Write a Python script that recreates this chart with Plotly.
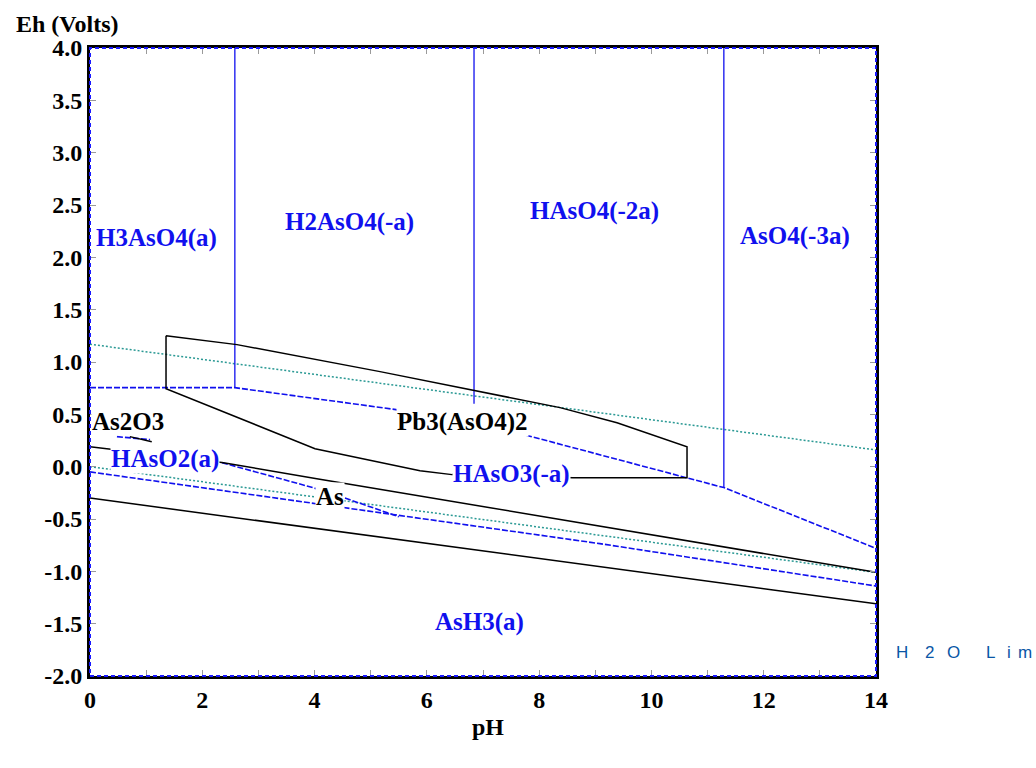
import plotly.graph_objects as go

# ---- Eh-pH diagram data: As-Pb-H2O system ----
# Water stability limits (dotted)
h2o_upper_ph = [0, 14]
h2o_upper_eh = [1.17, 0.16]
h2o_lower_ph = [0, 14]
h2o_lower_eh = [0.0, -1.01]

# Aqueous arsenate speciation boundaries (vertical, blue)
arsenate_bound_ph = [2.58, 6.84, 11.29]
arsenate_bound_eh_low = [0.755, 0.60, -0.20]

# As(V) / As(III) boundary (blue dashed)
as5_as3_ph = [0, 2.58, 5.45, 7.80, 10.62, 11.29, 14]
as5_as3_eh = [0.755, 0.755, 0.545, 0.296, -0.105, -0.20, -0.78]

# As2O3 / HAsO2 boundary pieces
as2o3_blue_ph = [0.48, 1.07]
as2o3_blue_eh = [0.287, 0.258]
as2o3_black_ph = [0.71, 1.10]
as2o3_black_eh = [0.287, 0.239]

# HAsO2(a) / As boundary (blue dashed)
hasO2_as_ph = [2.35, 3.97, 4.52, 5.50]
hasO2_as_eh = [0.038, -0.20, -0.296, -0.478]

# As(III) / As(-III) boundary (blue dashed, lowest)
as3_ash3_ph = [0, 9.08, 14]
as3_ash3_eh = [-0.05, -0.735, -1.14]

# Solid phase boundaries (black)
upper_solid_ph = [0, 2.35, 4.04, 14]
upper_solid_eh = [0.19, 0.04, -0.115, -1.01]
lower_solid_ph = [0, 14]
lower_solid_eh = [-0.30, -1.31]

# Pb3(AsO4)2 stability field outline
pb_ph = [1.354, 2.618, 5.166, 8.372, 9.387, 10.634, 10.634, 8.603, 6.448, 5.878, 4.008, 1.354, 1.354]
pb_eh = [1.251, 1.166, 0.908, 0.564, 0.420, 0.191, -0.105, -0.105, -0.076, -0.038, 0.172, 0.745, 1.251]

# Field labels
blue_labels = ["H3AsO4(a)", "H2AsO4(-a)", "HAsO4(-2a)", "AsO4(-3a)", "HAsO2(a)", "HAsO3(-a)", "AsH3(a)"]
blue_label_ph = [1.19, 4.63, 8.98, 12.56, 1.34, 7.50, 6.93]
blue_label_eh = [2.18, 2.34, 2.44, 2.20, 0.076, -0.067, -1.48]
black_labels = ["As2O3", "Pb3(AsO4)2", "As"]
black_label_ph = [0.68, 6.63, 4.27]
black_label_eh = [0.43, 0.43, -0.287]

# Water-limit note, written one spaced glyph at a time
h2o_note_chars = ["H", "2", "O", "L", "i", "m"]

# Axis ticks
x_tick_vals = list(range(0, 15))
x_tick_text = [str(v) if v % 2 == 0 else "" for v in x_tick_vals]
y_tick_vals = [-2.0, -1.5, -1.0, -0.5, 0.0, 0.5, 1.0, 1.5, 2.0, 2.5, 3.0, 3.5, 4.0]
y_tick_text = ["-2.0", "-1.5", "-1.0", "-0.5", "0.0", "0.5", "1.0", "1.5", "2.0", "2.5", "3.0", "3.5", "4.0"]

BLUE = "#1010ee"
TEAL = "#2a9994"
BLACK = "#000000"
SERIF = "Liberation Serif, Times New Roman, serif"

fig = go.Figure()


def add_line(xs, ys, color, width=1.5, dash="solid"):
    fig.add_trace(go.Scatter(
        x=xs, y=ys, mode="lines",
        line=dict(color=color, width=width, dash=dash),
        hoverinfo="skip", showlegend=False,
    ))


# water limits
add_line(h2o_upper_ph, h2o_upper_eh, TEAL, 1.5, "2px,2px")
add_line(h2o_lower_ph, h2o_lower_eh, TEAL, 1.5, "2px,2px")

# vertical arsenate boundaries
for ph, eh in zip(arsenate_bound_ph, arsenate_bound_eh_low):
    add_line([ph, ph], [4.0, eh], BLUE, 1.3, "solid")

# redox boundaries
add_line(as5_as3_ph, as5_as3_eh, BLUE, 1.6, "6px,2px")
add_line(as2o3_blue_ph, as2o3_blue_eh, BLUE, 1.6, "6px,2px")
add_line(hasO2_as_ph, hasO2_as_eh, BLUE, 1.6, "6px,2px")
add_line(as3_ash3_ph, as3_ash3_eh, BLUE, 1.6, "6px,2px")

# solid phase boundaries
add_line(upper_solid_ph, upper_solid_eh, BLACK, 1.5)
add_line(lower_solid_ph, lower_solid_eh, BLACK, 1.5)
add_line(as2o3_black_ph, as2o3_black_eh, BLACK, 1.5)
add_line(pb_ph, pb_eh, BLACK, 1.5)

annotations = []
for txt, x, y in zip(blue_labels, blue_label_ph, blue_label_eh):
    annotations.append(dict(
        x=x, y=y, xref="x", yref="y", text=txt, showarrow=False,
        font=dict(family=SERIF, size=25, color=BLUE, weight="bold"),
        bgcolor="white", borderpad=0, xanchor="center", yanchor="middle",
    ))
for txt, x, y in zip(black_labels, black_label_ph, black_label_eh):
    annotations.append(dict(
        x=x, y=y, xref="x", yref="y", text=txt, showarrow=False,
        font=dict(family=SERIF, size=25, color=BLACK, weight="bold"),
        bgcolor="white", borderpad=0, xanchor="center", yanchor="middle",
    ))

# axis titles
annotations.append(dict(
    x=-0.029, y=1.038, xref="paper", yref="paper", text="Eh (Volts)",
    showarrow=False, xanchor="center", yanchor="middle",
    font=dict(family=SERIF, size=24, color=BLACK, weight="bold"),
))
annotations.append(dict(
    x=0.506, y=-0.081, xref="paper", yref="paper", text="pH",
    showarrow=False, xanchor="center", yanchor="middle",
    font=dict(family=SERIF, size=24, color=BLACK, weight="bold"),
))

# spaced note to the right of the frame
note_x_paper = [1.024, 1.061, 1.089, 1.139, 1.165, 1.179]
for ch, xp in zip(h2o_note_chars, note_x_paper):
    annotations.append(dict(
        x=xp, y=0.038, xref="paper", yref="paper", text=ch,
        showarrow=False, xanchor="left", yanchor="middle", borderpad=0,
        font=dict(family="Liberation Sans, Arial, sans-serif", size=17, color="#0a56a6"),
    ))

axis_common = dict(
    showgrid=False, zeroline=False,
    showline=True, linecolor=BLACK, linewidth=3, mirror="ticks",
    ticks="inside", ticklen=6, tickwidth=1, tickcolor="#9a9a9a",
    tickfont=dict(family=SERIF, size=24, color=BLACK, weight="bold"),
)

fig.update_layout(
    width=1036, height=768,
    margin=dict(l=90, r=160, t=48, b=92),
    paper_bgcolor="white", plot_bgcolor="white",
    xaxis=dict(range=[0, 14], tickvals=x_tick_vals, ticktext=x_tick_text, **axis_common),
    yaxis=dict(range=[-2, 4], tickvals=y_tick_vals, ticktext=y_tick_text, **axis_common),
    annotations=annotations,
    shapes=[dict(
        type="rect", xref="paper", yref="paper", x0=0, y0=0, x1=1, y1=1,
        line=dict(color="#1a1aff", width=2, dash="4px,3px"), layer="above",
    )],
)

fig.write_html("out.html")
